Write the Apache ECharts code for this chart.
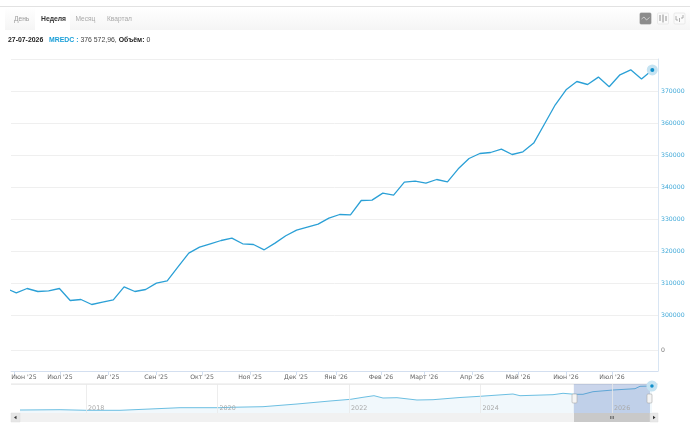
<!DOCTYPE html>
<html><head><meta charset="utf-8">
<style>html,body{margin:0;padding:0;background:#fff}#c{width:700px;height:431px}</style>
<script src="https://cdn.jsdelivr.net/npm/echarts@6/dist/echarts.min.js"></script>
</head><body><div id="c"></div>
<script>
// Weekly index values: week -1 lies left of the visible window and is clipped.
const firstWeek = -1;
const weeklyValues = [308375,306937,308281,307344,307562,308281,304531,304844,303281,304031,304750,308812,307344,307969,309969,310687,315062,319344,321219,322250,323281,324031,322250,322031,320375,322469,324750,326531,327469,328406,330281,331406,331312,335781,335906,338094,337469,341531,341844,341219,342344,341625,345687,348906,350469,350781,351844,350156,351000,353719,359687,365687,370375,372969,372031,374344,371313,375063,376625,373719,376572.96];
// Month boundaries on the week scale (the source axis is ordinal, so months are uneven)
const monthTickPos = [-0.15,4.05,8.51,12.96,17.23,21.68,25.95,29.66,33.83,37.82,42.27,46.54,50.99,55.26];
const monthLabelPos = [0.71,4.05,8.51,12.96,17.23,21.68,25.95,29.66,33.83,37.82,42.27,46.54,50.99,55.26];
const monthLabels = ["Июн '25","Июл '25","Авг '25","Сен '25","Окт '25","Ноя '25","Дек '25","Янв '26","Фев '26","Март '26","Апр '26","Май '26","Июн '26","Июл '26"];
// Navigator: long-run history
const navYears = [2016.996,2017.605,2018.01,2018.517,2018.973,2019.43,2020.038,2020.19,2020.692,2021.209,2021.711,2022.026,2022.213,2022.38,2022.517,2022.73,2023.034,2023.278,2023.688,2023.992,2024.494,2024.601,2025.103,2025.255,2025.437,2025.559,2025.711,2026.015,2026.35,2026.426,2026.608];
const navValues = [146173,149053,143293,143293,155773,168253,168253,172093,177853,203773,232573,248893,268093,283453,261373,264253,242173,245053,266173,277693,299773,283453,293053,306493,296893,296893,321853,338173,350653,373693,376572.96];
const navTicks = [2018,2020,2022,2024,2026];
const navWindow = [2025.42,2026.578];
const tabs = ["День","Неделя","Месяц","Квартал"];
const infoDate = "27-07-2026", infoName = "MREDC :", infoValue = " 376 572,96, ", infoVolLabel = "Объём:", infoVol = " 0";

const F = '"DejaVu Sans"', A = '"Liberation Sans"';
const weekMin = -0.4917, weekMax = 59.53;
const mainData = weeklyValues.map((v,i)=>[i+firstWeek,v]);
const navData = navYears.map((y,i)=>[y,navValues[i]]);
const lastMain = mainData[mainData.length-1], lastNav = navData[navData.length-1];
const icon = (x,y,fill,stroke,pts)=>[
  {type:'rect',shape:{x,y,width:11,height:11,r:1},style:{fill,stroke:fill==='#8c8c8c'?'#8c8c8c':'#e2e2e2',lineWidth:0.7}},
  ...pts.map(p=>({type:'polyline',shape:{points:p.map(q=>[x+q[0],y+q[1]])},style:{fill:'none',stroke,lineWidth:0.8}}))
];
const dot = (xi,yi,data,size,color,z)=>({type:'scatter',xAxisIndex:xi,yAxisIndex:yi,data:[data],symbol:'circle',symbolSize:size,clip:false,itemStyle:{color,opacity:1},z});
const chart = echarts.init(document.getElementById('c'),null,{renderer:'canvas'});
chart.setOption({
  animation:false,
  backgroundColor:'#fff',
  grid:[
    {left:11,right:42,top:59,height:256},
    {left:11,right:42,top:315,height:56},
    {left:11,right:42,top:384,height:29}
  ],
  xAxis:[
    {gridIndex:0,type:'value',min:weekMin,max:weekMax,show:false},
    {gridIndex:1,type:'value',min:weekMin,max:weekMax,
      axisLine:{show:true,onZero:false,lineStyle:{color:'#d3dff0',width:1}},
      axisTick:{show:true,length:4,lineStyle:{color:'#d3dff0'},customValues:monthTickPos},
      axisLabel:{customValues:monthLabelPos,margin:3,fontFamily:F,fontSize:6.2,color:'#666',
        formatter:v=>monthLabels[monthLabelPos.indexOf(v)]||''},
      splitLine:{show:false}},
    {gridIndex:2,type:'value',min:2016.859,max:2026.7,z:10,
      axisLine:{show:false,onZero:false},
      axisTick:{show:false,customValues:navTicks},
      axisLabel:{customValues:navTicks,inside:true,align:'left',margin:2,padding:[0,0,0,2],fontFamily:F,fontSize:6.4,color:'#aaa',formatter:v=>String(v)},
      splitLine:{show:true,lineStyle:{color:'#e8e8e8',width:0.8}}}
  ],
  yAxis:[
    {gridIndex:0,type:'value',position:'right',min:300000,max:380000,interval:10000,
      axisLine:{show:true,onZero:false,lineStyle:{color:'#d8e5f3'}},axisTick:{show:false},
      axisLabel:{margin:3,fontFamily:F,fontSize:6.2,color:'#3ea8d8',showMaxLabel:false,formatter:v=>String(v)},
      splitLine:{lineStyle:{color:'#efefef',width:1}}},
    {gridIndex:1,type:'value',position:'right',min:-21,max:35,
      axisLine:{show:true,onZero:false,lineStyle:{color:'#d8e5f3'}},axisTick:{show:false,customValues:[0]},
      axisLabel:{customValues:[0],margin:3,fontFamily:F,fontSize:6.2,color:'#777',formatter:v=>String(v)},
      splitLine:{lineStyle:{color:'#efefef',width:1}}},
    {gridIndex:2,type:'value',min:117373,max:395773,show:false}
  ],
  series:[
    {type:'line',xAxisIndex:0,yAxisIndex:0,data:mainData,symbol:'none',clip:true,smooth:false,
      lineStyle:{color:'#2ba0d6',width:1.3},z:5},
    dot(0,0,lastMain,11,'#c5e3f2',6),
    dot(0,0,lastMain,4,'#0f8fca',7),
    {type:'line',xAxisIndex:2,yAxisIndex:2,data:navData,symbol:'none',clip:false,smooth:false,
      lineStyle:{color:'#6cbfe2',width:1},areaStyle:{color:'#f1f8fc',opacity:1},z:3},
    {type:'line',xAxisIndex:2,yAxisIndex:2,data:[],z:4,
      markArea:{silent:true,z:4,itemStyle:{color:'rgba(60,100,180,0.27)'},data:[[{xAxis:navWindow[0],yAxis:117373},{xAxis:navWindow[1],yAxis:395773}]]}},
    dot(2,2,lastNav,11,'#c5e3f2',6),
    dot(2,2,lastNav,3.5,'#0f8fca',7)
  ],
  graphic:[
    {type:'rect',z:-5,shape:{x:5,y:7,width:685,height:23},style:{fill:new echarts.graphic.LinearGradient(0,0,0,1,[{offset:0,color:'#ffffff'},{offset:1,color:'#f5f5f5'}])}},
    {type:'rect',z:-5,shape:{x:0,y:6,width:690,height:1},style:{fill:'#e2e2e2'}},
    {type:'rect',z:-4,shape:{x:35,y:7,width:35,height:23},style:{fill:'#ffffff'}},
    {type:'text',style:{x:14,y:19,text:tabs[0],font:'6.6px '+A,fill:'#999',textVerticalAlign:'middle'}},
    {type:'text',style:{x:41,y:19,text:tabs[1],font:'bold 6.8px '+A,fill:'#333',textVerticalAlign:'middle'}},
    {type:'text',style:{x:75.5,y:19,text:tabs[2],font:'6.6px '+A,fill:'#aaa',textVerticalAlign:'middle'}},
    {type:'text',style:{x:107,y:19,text:tabs[3],font:'6.6px '+A,fill:'#aaa',textVerticalAlign:'middle'}},
    ...icon(640,13,'#8c8c8c','#dcdcdc',[[[1.5,6],[4,4],[6.5,7],[9.5,4.5]]]),
    ...icon(657.5,13,'#fafafa','#777',[[[2.5,2],[2.5,8]],[[5.5,1.5],[5.5,9.5]],[[8.5,3],[8.5,8]]]),
    ...icon(674,13,'#fafafa','#999',[[[2,3],[2,7],[4,7]],[[5.5,5],[5.5,9]],[[7,5],[9,5],[9,2]]]),
    {type:'text',style:{x:8,y:40.5,textVerticalAlign:'middle',
      text:'{d|'+infoDate+'}{g|   }{n|'+infoName+'}{v|'+infoValue+'}{d|'+infoVolLabel+'}{v|'+infoVol+'}',
      rich:{d:{fontSize:6.9,fontWeight:'bold',fontFamily:A,color:'#222',fill:'#222'},
            g:{fontSize:6.9,fontFamily:A},
            n:{fontSize:6.9,fontWeight:'bold',fontFamily:A,color:'#1a9fd8',fill:'#1a9fd8'},
            v:{fontSize:6.9,fontFamily:A,color:'#444',fill:'#444'}}}},
    {type:'rect',z:-3,shape:{x:11,y:383.5,width:647,height:1.2},style:{fill:'#e6e6e6'}},
    {type:'rect',shape:{x:11,y:413,width:647,height:9},style:{fill:'#f1f1f1'}},
    {type:'rect',shape:{x:11,y:413,width:9,height:9},style:{fill:'#e6e6e6',stroke:'#dcdcdc',lineWidth:0.5}},
    {type:'polygon',shape:{points:[[16.5,415.8],[16.5,419.2],[14,417.5]]},style:{fill:'#333'}},
    {type:'rect',shape:{x:574,y:413,width:76,height:9},style:{fill:'#c9c9c9'}},
    {type:'rect',shape:{x:650,y:413,width:8,height:9},style:{fill:'#e8e8e8',stroke:'#dcdcdc',lineWidth:0.5}},
    {type:'polygon',shape:{points:[[653,415.8],[653,419.2],[655.5,417.5]]},style:{fill:'#333'}},
    {type:'polyline',shape:{points:[[610.5,416],[610.5,419]]},style:{stroke:'#555',lineWidth:0.7}},
    {type:'polyline',shape:{points:[[612,416],[612,419]]},style:{stroke:'#555',lineWidth:0.7}},
    {type:'polyline',shape:{points:[[613.5,416],[613.5,419]]},style:{stroke:'#555',lineWidth:0.7}},
    {type:'rect',z:20,shape:{x:572,y:394,width:5,height:9,r:1},style:{fill:'#f5f5f5',stroke:'#a8a8a8',lineWidth:0.6}},
    {type:'rect',z:20,shape:{x:647,y:394,width:5,height:9,r:1},style:{fill:'#f5f5f5',stroke:'#a8a8a8',lineWidth:0.6}}
  ]
});
</script></body></html>
